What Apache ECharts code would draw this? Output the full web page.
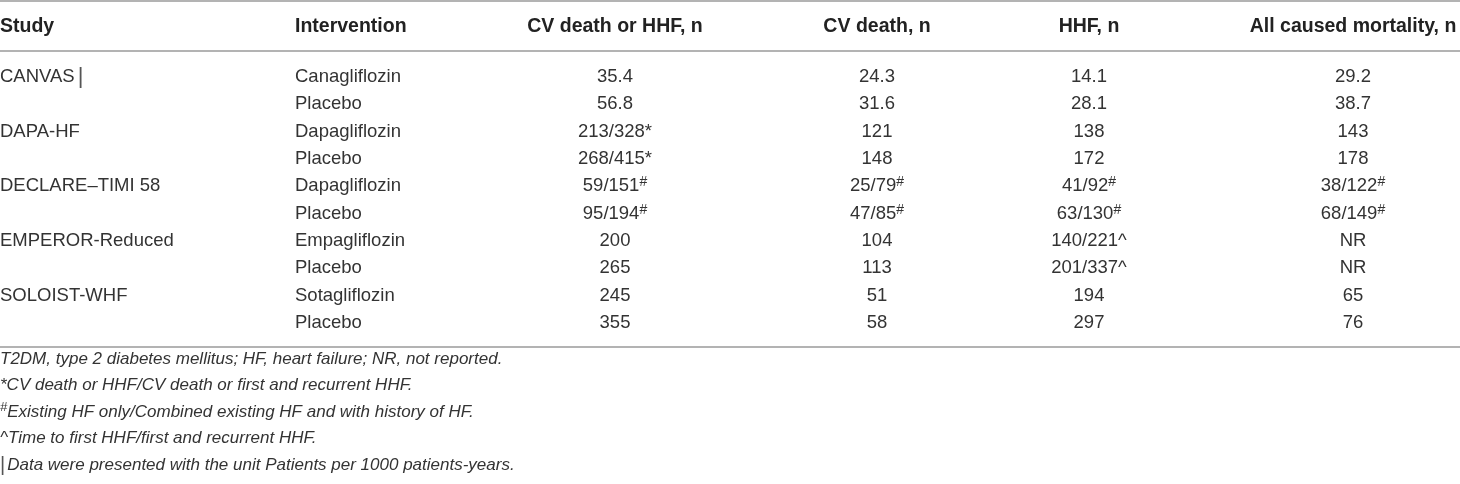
<!DOCTYPE html>
<html><head><meta charset="utf-8">
<script src="https://cdn.jsdelivr.net/npm/echarts@6/dist/echarts.min.js"></script>
<style>html,body{margin:0;padding:0;background:#fff}#c{width:1460px;height:484px}</style>
</head><body><div id="c"></div>
<script>
// ---- data ----
const headers = ['Study', 'Intervention', 'CV death or HHF, n', 'CV death, n', 'HHF, n', 'All caused mortality, n'];
const studies = ['CANVAS\u2502', '', 'DAPA-HF', '', 'DECLARE\u2013TIMI 58', '', 'EMPEROR-Reduced', '', 'SOLOIST-WHF', ''];
const interventions = ['Canagliflozin', 'Placebo', 'Dapagliflozin', 'Placebo', 'Dapagliflozin', 'Placebo', 'Empagliflozin', 'Placebo', 'Sotagliflozin', 'Placebo'];
const cvDeathOrHHF = ['35.4', '56.8', '213/328*', '268/415*', '59/151#', '95/194#', '200', '265', '245', '355'];
const cvDeath = ['24.3', '31.6', '121', '148', '25/79#', '47/85#', '104', '113', '51', '58'];
const hhf = ['14.1', '28.1', '138', '172', '41/92#', '63/130#', '140/221^', '201/337^', '194', '297'];
const allCauseMortality = ['29.2', '38.7', '143', '178', '38/122#', '68/149#', 'NR', 'NR', '65', '76'];
const footnotes = [
  'T2DM, type 2 diabetes mellitus; HF, heart failure; NR, not reported.',
  '*CV death or HHF/CV death or first and recurrent HHF.',
  '#Existing HF only/Combined existing HF and with history of HF.',
  '^Time to first HHF/first and recurrent HHF.',
  '\u2502Data were presented with the unit Patients per 1000 patients-years.'
];

// ---- layout (not data) ----
const W = 1460, H = 484;
const COL_X = [0, 295, 615, 877, 1089, 1353];
const COL_ALIGN = ['left', 'left', 'center', 'center', 'center', 'center'];
const HEADER_Y = 27;
const ROW_Y0 = 77, ROW_H = 27.33;
const FOOT_Y0 = 359, FOOT_H = 26.5;
const RULE_Y = [1, 51, 347];
const FONT = "'Liberation Sans', Arial, Helvetica, sans-serif";
const TXT = '#333333';

const columnsData = [studies, interventions, cvDeathOrHHF, cvDeath, hhf, allCauseMortality];

function richify(s) {
  // '#' marks a superscript hash; '\u2502' is drawn as a tall thin bar
  return s.replace(/#/g, '{s|#}').replace(/\u2502/g, '{bar||}');
}

const bodyItems = [];
columnsData.forEach((arr, c) => arr.forEach((t, r) => { if (t) bodyItems.push({ value: [c, r], text: richify(t) }); }));
const headItems = headers.map((t, c) => ({ value: [c, 0], text: t }));
const footItems = footnotes.map((t, i) => ({ value: [0, i], text: richify(t) }));
const ruleItems = RULE_Y.map((y, i) => ({ value: [i] }));

const bodyRich = {
  s: { fontSize: 14, fontFamily: FONT, verticalAlign: 'top', lineHeight: 8, fill: TXT, fontStyle: 'normal' },
  bar: { fontSize: 22, fontFamily: FONT, fontStyle: 'normal', fill: '#555', lineHeight: 22, padding: [0, 0, 0, 3] }
};
const footRich = {
  s: { fontSize: 13, fontFamily: FONT, verticalAlign: 'top', lineHeight: 8, fill: TXT, fontStyle: 'italic' },
  bar: { fontSize: 20, fontFamily: FONT, fontStyle: 'normal', fill: '#555', lineHeight: 22, padding: [0, 2, 0, 0] }
};

const chart = echarts.init(document.getElementById('c'), null, { renderer: 'canvas' });
chart.setOption({
  animation: false,
  backgroundColor: '#ffffff',
  grid: { left: 0, right: 0, top: 0, bottom: 0 },
  xAxis: { type: 'value', min: 0, max: W, show: false },
  yAxis: { type: 'value', min: 0, max: H, inverse: true, show: false },
  series: [
    {
      type: 'custom', clip: false, silent: true, data: ruleItems,
      renderItem: (params, api) => {
        const y = RULE_Y[api.value(0)];
        const a = api.coord([0, y]), b = api.coord([W, y]);
        return { type: 'line', shape: { x1: a[0], y1: a[1], x2: b[0], y2: b[1] },
                 style: { stroke: '#9a9a9a', lineWidth: 1.3 } };
      }
    },
    {
      type: 'custom', clip: false, silent: true, data: headItems,
      renderItem: (params, api) => {
        const c = api.value(0);
        const p = api.coord([COL_X[c], HEADER_Y]);
        return { type: 'text', x: p[0], y: p[1],
                 style: { text: headItems[params.dataIndex].text, align: COL_ALIGN[c], verticalAlign: 'middle',
                          fontFamily: FONT, fontSize: 19.5, fontWeight: 'bold', fill: '#222222' } };
      }
    },
    {
      type: 'custom', clip: false, silent: true, data: bodyItems,
      renderItem: (params, api) => {
        const c = api.value(0), r = api.value(1);
        const p = api.coord([COL_X[c], ROW_Y0 + ROW_H * r]);
        return { type: 'text', x: p[0], y: p[1],
                 style: { text: bodyItems[params.dataIndex].text, align: COL_ALIGN[c], verticalAlign: 'middle',
                          fontFamily: FONT, fontSize: 18.5, lineHeight: 22, fill: TXT, rich: bodyRich } };
      }
    },
    {
      type: 'custom', clip: false, silent: true, data: footItems,
      renderItem: (params, api) => {
        const r = api.value(1);
        const p = api.coord([0, FOOT_Y0 + FOOT_H * r]);
        return { type: 'text', x: p[0], y: p[1],
                 style: { text: footItems[params.dataIndex].text, align: 'left', verticalAlign: 'middle',
                          fontFamily: FONT, fontSize: 17, fontStyle: 'italic', lineHeight: 22, fill: TXT, rich: footRich } };
      }
    }
  ]
});
</script></body></html>
